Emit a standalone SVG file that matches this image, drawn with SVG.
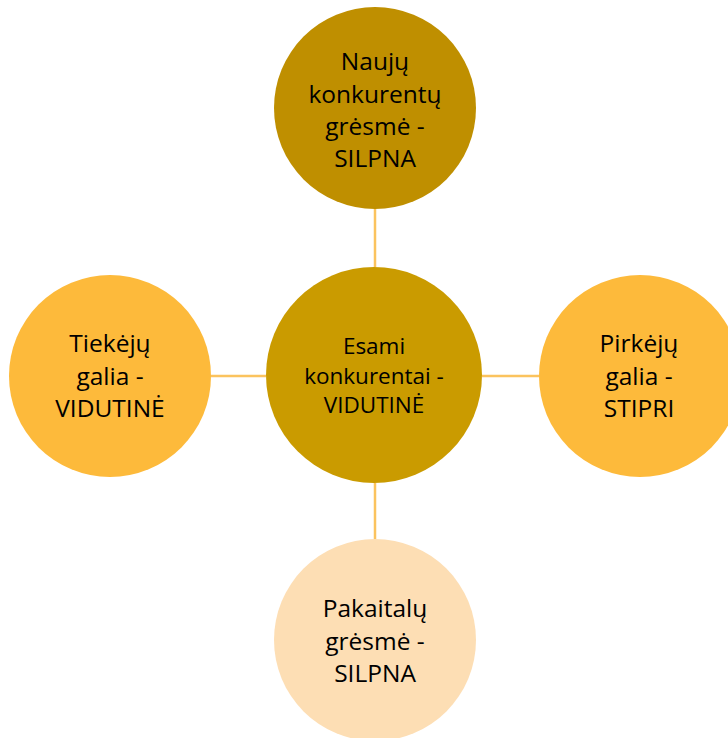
<svg xmlns="http://www.w3.org/2000/svg" width="728" height="738" viewBox="0 0 728 738">
<style>
.t{font-family:"Open Sans","Liberation Sans",sans-serif;font-size:24.5px;fill:#000;text-anchor:middle}
.c{font-size:22.5px}
.ln{stroke:#FBC35E;stroke-width:2.5;fill:none}
</style>
<rect width="728" height="738" fill="#fff"/>
<g id="connectors">
<line class="ln" x1="375" y1="209" x2="375" y2="267"/>
<line class="ln" x1="375" y1="483" x2="375" y2="539"/>
<line class="ln" x1="211" y1="376" x2="266" y2="376"/>
<line class="ln" x1="482" y1="376" x2="539" y2="376"/>
</g>
<g id="top">
<circle cx="375" cy="108" r="101" fill="#BF8F00"/>
<text class="t" x="375" y="70">Naujų</text>
<text class="t" x="375" y="103">konkurentų</text>
<text class="t" x="375" y="135">grėsmė -</text>
<text class="t" x="375" y="167">SILPNA</text>
</g>
<g id="center">
<circle cx="374" cy="375" r="108" fill="#CA9B00"/>
<text class="t c" x="374" y="354">Esami</text>
<text class="t c" x="374" y="383.5">konkurentai -</text>
<text class="t c" x="374" y="413">VIDUTINĖ</text>
</g>
<g id="left">
<circle cx="110" cy="376" r="101" fill="#FDBA3B"/>
<text class="t" x="110" y="352">Tiekėjų</text>
<text class="t" x="110" y="385">galia -</text>
<text class="t" x="110" y="417">VIDUTINĖ</text>
</g>
<g id="right">
<circle cx="640" cy="376" r="101" fill="#FDBA3B"/>
<text class="t" x="639" y="352">Pirkėjų</text>
<text class="t" x="639" y="385">galia -</text>
<text class="t" x="639" y="417">STIPRI</text>
</g>
<g id="bottom">
<circle cx="375" cy="640" r="101" fill="#FDDEB4"/>
<text class="t" x="375" y="617">Pakaitalų</text>
<text class="t" x="375" y="649.5">grėsmė -</text>
<text class="t" x="375" y="682">SILPNA</text>
</g>
</svg>
